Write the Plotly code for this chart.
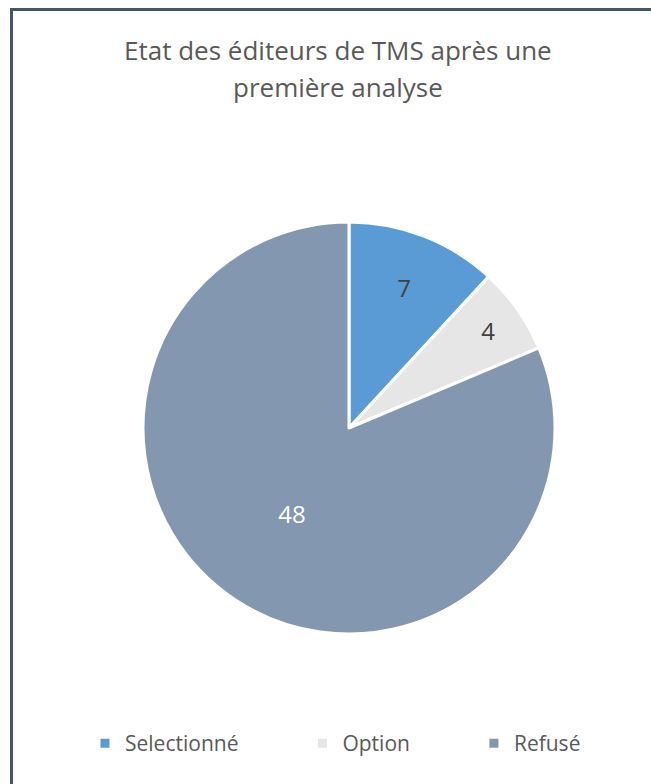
import plotly.graph_objects as go

labels = ["Selectionné", "Option", "Refusé"]
values = [7, 4, 48]
colors = ["#5B9BD5", "#E7E6E6", "#8497B0"]
text_colors = ["#404040", "#404040", "#FFFFFF"]
title_lines = ["Etat des éditeurs de TMS après une", "première analyse"]

W, H = 651, 784
B = 61                 # bottom margin holding the legend
PH = H - B             # plot-area height in px


def px_x(x):
    return x / W


def px_y(y):
    return (PH - y) / PH


fig = go.Figure(go.Pie(
    labels=labels,
    values=values,
    sort=False,
    direction="clockwise",
    rotation=0,
    marker=dict(colors=colors, line=dict(color="white", width=3)),
    textinfo="value",
    textposition="inside",
    insidetextorientation="horizontal",
    textfont=dict(family="Open Sans", size=24, color=text_colors),
    domain=dict(x=[px_x(143), px_x(555)], y=[px_y(634), px_y(222)]),
    hoverinfo="label+value+percent",
))

annotations = []
title_y = [50, 87]
for line, ty in zip(title_lines, title_y):
    annotations.append(dict(
        text=line, x=px_x(338), y=px_y(ty), xref="paper", yref="paper",
        xanchor="center", yanchor="middle", showarrow=False,
        font=dict(family="Open Sans", size=26, color="#595959"),
    ))

fig.update_layout(
    width=W, height=H,
    margin=dict(l=0, r=0, t=0, b=B, autoexpand=False),
    paper_bgcolor="white",
    plot_bgcolor="white",
    font=dict(family="Open Sans", color="#595959"),
    showlegend=True,
    legend=dict(
        orientation="h",
        x=px_x(26), xanchor="left",
        y=0, yanchor="top",
        font=dict(family="Open Sans", size=21, color="#595959"),
        indentation=59,
        itemwidth=30,
    ),
    annotations=annotations,
    shapes=[dict(
        type="rect", xref="paper", yref="paper",
        x0=px_x(11.5), x1=1.05, y0=-0.2, y1=px_y(9.5),
        line=dict(color="#44546A", width=3), fillcolor="rgba(0,0,0,0)",
        layer="above",
    )],
)

fig.write_html("out.html")
